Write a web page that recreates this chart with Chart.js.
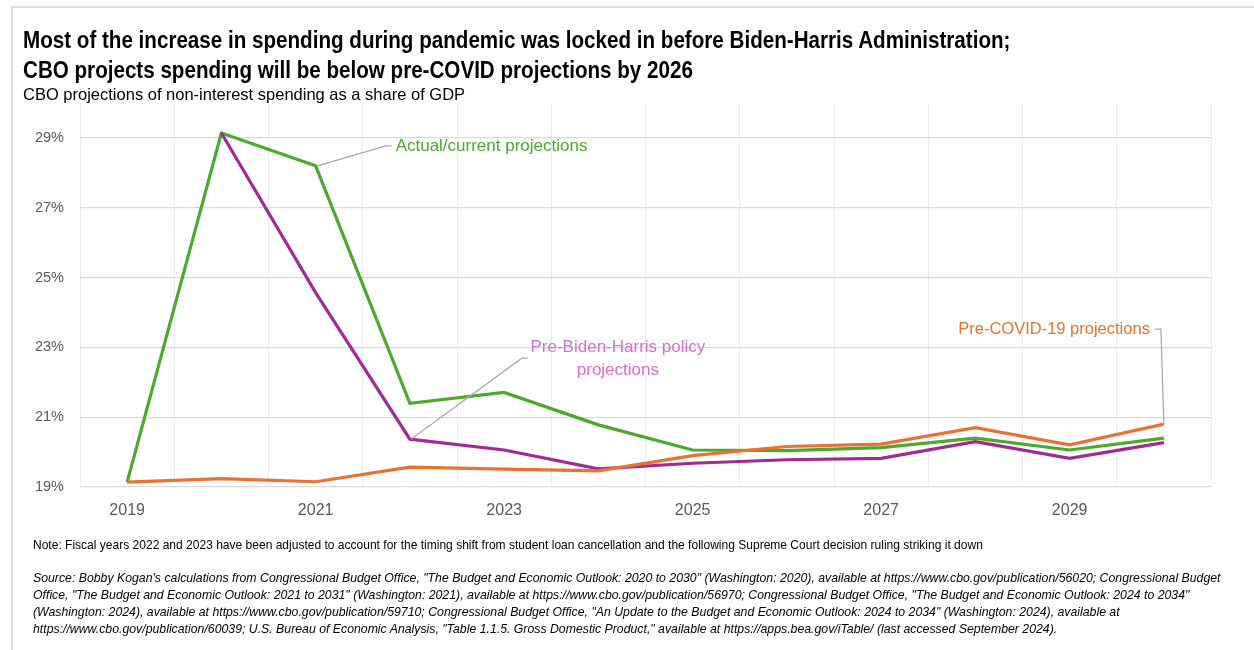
<!DOCTYPE html>
<html>
<head>
<meta charset="utf-8">
<script src="https://cdn.jsdelivr.net/npm/chart.js@4/dist/chart.umd.min.js"></script>
<style>
  html, body { margin: 0; padding: 0; background: #fff; }
  body { width: 1254px; height: 650px; position: relative; overflow: hidden; }
  .frame { position: absolute; left: 11px; top: 6px; right: 0; bottom: 0; border-left: 2px solid #dcdcdc; border-top: 2px solid #dcdcdc; }
  #wrap { position: absolute; left: 0; top: 0; width: 1254px; height: 650px; }
  .title { position: absolute; left: 23px; top: 25px; font-family: "Liberation Sans", Arial, sans-serif; font-weight: bold; font-size: 23px; line-height: 30px; color: #000; white-space: nowrap; transform: scaleX(0.896); transform-origin: left top; }
  .subtitle { position: absolute; left: 23px; top: 84px; font-family: "Liberation Sans", Arial, sans-serif; font-size: 16.5px; line-height: 20px; color: #000; white-space: nowrap; }
  .note { position: absolute; left: 33px; top: 536px; font-family: "Liberation Sans", Arial, sans-serif; font-size: 13px; line-height: 17px; color: #000; white-space: nowrap; transform: scaleX(0.925); transform-origin: left top; }
  .source { position: absolute; left: 33px; top: 569px; font-family: "Liberation Sans", Arial, sans-serif; font-style: italic; font-size: 13.5px; line-height: 17px; color: #000; white-space: nowrap; transform: scaleX(0.91); transform-origin: left top; }
</style>
</head>
<body>
<div class="frame"></div>
<div id="wrap"><canvas id="chart"></canvas></div>
<div class="title">Most of the increase in spending during pandemic was locked in before Biden-Harris Administration;<br>CBO projects spending will be below pre-COVID projections by 2026</div>
<div class="subtitle">CBO projections of non-interest spending as a share of GDP</div>
<div class="note">Note: Fiscal years 2022 and 2023 have been adjusted to account for the timing shift from student loan cancellation and the following Supreme Court decision ruling striking it down</div>
<div class="source">Source: Bobby Kogan's calculations from Congressional Budget Office, "The Budget and Economic Outlook: 2020 to 2030" (Washington: 2020), available at https://www.cbo.gov/publication/56020; Congressional Budget<br>Office, "The Budget and Economic Outlook: 2021 to 2031" (Washington: 2021), available at https://www.cbo.gov/publication/56970; Congressional Budget Office, "The Budget and Economic Outlook: 2024 to 2034"<br>(Washington: 2024), available at https://www.cbo.gov/publication/59710; Congressional Budget Office, "An Update to the Budget and Economic Outlook: 2024 to 2034" (Washington: 2024), available at<br>https://www.cbo.gov/publication/60039; U.S. Bureau of Economic Analysis, "Table 1.1.5. Gross Domestic Product," available at https://apps.bea.gov/iTable/ (last accessed September 2024).</div>
<script>
// ---- Data ----
const years = ['2019','2020','2021','2022','2023','2024','2025','2026','2027','2028','2029','2030'];
const actualCurrent  = [19.14, 29.14, 28.20, 21.40, 21.71, 20.78, 20.06, 20.04, 20.13, 20.40, 20.06, 20.40];
const preBidenHarris = [null,  29.14, 24.57, 20.37, 20.06, 19.52, 19.68, 19.78, 19.82, 20.30, 19.82, 20.27];
const preCovid       = [19.14, 19.24, 19.15, 19.57, 19.51, 19.46, 19.90, 20.16, 20.23, 20.70, 20.21, 20.80];
const yTickValues = [19, 21, 23, 25, 27, 29];
const xTickLabels = ['2019','','2021','','2023','','2025','','2027','','2029',''];
const seriesNames = ['Actual/current projections', 'Pre-Biden-Harris policy projections', 'Pre-COVID-19 projections'];

const GREEN = '#4EA72E', PURPLE = '#A02B93', ORANGE = '#E97132', PINK = '#D86ECC', LEADER = '#a6a6a6';

const annotationPlugin = {
  id: 'calloutLabels',
  afterDatasetsDraw(chart) {
    const ctx = chart.ctx;
    ctx.save();
    ctx.lineWidth = 1.2;
    ctx.strokeStyle = LEADER;
    ctx.font = '17px "Liberation Sans", sans-serif';
    ctx.textBaseline = 'middle';

    // Actual/current projections -> green 2021 point
    const g = chart.getDatasetMeta(0).data[2];
    ctx.beginPath();
    ctx.moveTo(g.x + 2, g.y);
    ctx.lineTo(g.x + 70, g.y - 20);
    ctx.lineTo(g.x + 76, g.y - 20);
    ctx.stroke();
    ctx.fillStyle = GREEN;
    ctx.textAlign = 'left';
    ctx.fillText('Actual/current projections', g.x + 80, g.y - 20);

    // Pre-Biden-Harris policy projections -> purple 2022 point
    const p = chart.getDatasetMeta(1).data[3];
    ctx.beginPath();
    ctx.moveTo(p.x + 1, p.y);
    ctx.lineTo(p.x + 112, p.y - 81);
    ctx.lineTo(p.x + 118, p.y - 81);
    ctx.stroke();
    ctx.fillStyle = PINK;
    ctx.textAlign = 'center';
    ctx.fillText('Pre-Biden-Harris policy', p.x + 208, p.y - 92);
    ctx.fillText('projections', p.x + 208, p.y - 69);

    // Pre-COVID-19 projections -> orange 2030 point
    const o = chart.getDatasetMeta(2).data[11];
    ctx.beginPath();
    ctx.moveTo(o.x, o.y);
    ctx.lineTo(o.x - 3, o.y - 95);
    ctx.lineTo(o.x - 9, o.y - 95);
    ctx.stroke();
    ctx.fillStyle = ORANGE;
    ctx.textAlign = 'right';
    ctx.font = '16.5px "Liberation Sans", sans-serif';
    ctx.fillText('Pre-COVID-19 projections', o.x - 14, o.y - 95);
    ctx.restore();
  }
};

Chart.defaults.font.family = '"Liberation Sans", Arial, sans-serif';

new Chart(document.getElementById('chart'), {
  type: 'line',
  data: {
    labels: years,
    datasets: [
      { label: seriesNames[0], data: actualCurrent, borderColor: GREEN, borderWidth: 3.2, pointRadius: 0, tension: 0, order: 3 },
      { label: seriesNames[1], data: preBidenHarris, borderColor: PURPLE, borderWidth: 3.2, pointRadius: 0, tension: 0, order: 2 },
      { label: seriesNames[2], data: preCovid, borderColor: ORANGE, borderWidth: 3.2, pointRadius: 0, tension: 0, order: 1 }
    ]
  },
  options: {
    responsive: true,
    maintainAspectRatio: false,
    animation: false,
    layout: { padding: { top: 103, right: 43, bottom: 123, left: 0 } },
    plugins: { legend: { display: false }, tooltip: { enabled: false }, title: { display: false } },
    scales: {
      x: {
        offset: true,
        grid: { offset: true, color: '#ebebeb', lineWidth: 1, drawTicks: false },
        border: { display: false },
        ticks: {
          autoSkip: false, maxRotation: 0, padding: 14,
          color: '#595959', font: { size: 16 },
          callback: (v, i) => xTickLabels[i]
        },
        afterFit: s => { s.height = 40; }
      },
      y: {
        min: 19, max: 30,
        grid: { color: '#d9d9d9', lineWidth: 1.2, drawTicks: false },
        border: { display: false },
        afterBuildTicks: s => { s.ticks = yTickValues.map(v => ({ value: v })); },
        ticks: { padding: 16, color: '#595959', font: { size: 14.5 }, callback: v => v + '%' },
        afterFit: s => { s.width = 80; }
      }
    }
  },
  plugins: [annotationPlugin]
});
</script>
</body>
</html>
